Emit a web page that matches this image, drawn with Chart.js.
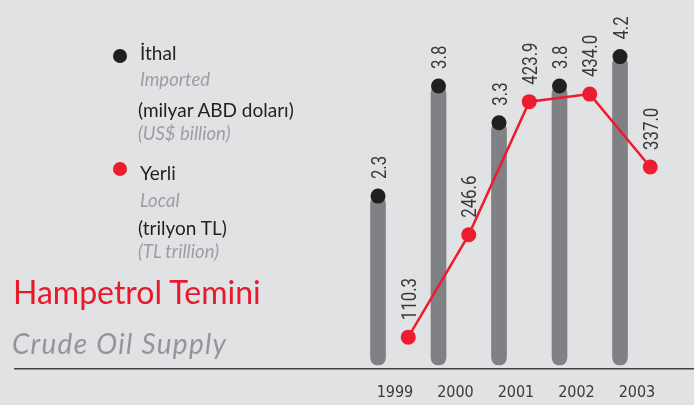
<!DOCTYPE html>
<html>
<head>
<meta charset="utf-8">
<script src="https://cdn.jsdelivr.net/npm/chart.js@4"></script>
<style>
html,body{margin:0;padding:0;background:#e1e2e4;}
#wrap{position:relative;width:694px;height:405px;overflow:hidden;background:#e1e2e4;}
#c{position:absolute;left:0;top:0;}
.t{position:absolute;white-space:nowrap;font-family:Lato,"Open Sans",sans-serif;line-height:1.2;z-index:2;}
.blk{font-size:19px;color:#231f20;}
.gry{font-size:18.5px;color:#9c9ea1;font-style:italic;}
.dot{position:absolute;width:14px;height:14px;border-radius:50%;z-index:2;}
</style>
</head>
<body>
<div id="wrap">
<canvas id="c" width="694" height="405"></canvas>
<div class="dot" style="left:113px;top:49px;background:#231f20;"></div>
<div class="t blk" style="left:140px;top:42.2px;">İthal</div>
<div class="t gry" style="left:140px;top:67.8px;">Imported</div>
<div class="t blk" style="left:138px;top:99.2px;">(milyar ABD doları)</div>
<div class="t gry" style="left:138px;top:121.8px;">(US$ billion)</div>
<div class="dot" style="left:113px;top:162px;background:#ed1c2e;"></div>
<div class="t blk" style="left:140px;top:162.2px;">Yerli</div>
<div class="t gry" style="left:140px;top:188.8px;">Local</div>
<div class="t blk" style="left:138px;top:217.2px;">(trilyon TL)</div>
<div class="t gry" style="left:138px;top:239.8px;">(TL trillion)</div>
<div class="t" style="left:13px;top:273.4px;font-size:32px;color:#e8192c;">Hampetrol Temini</div>
<div class="t" style="left:12px;top:327.4px;font-size:28px;color:#939598;font-style:italic;letter-spacing:1.3px;">Crude Oil Supply</div>
</div>
<script>
const years = ['1999', '2000', '2001', '2002', '2003'];
const imported = [2.3, 3.8, 3.3, 3.8, 4.2];
const local = [110.3, 246.6, 423.9, 434.0, 337.0];

const barPts = imported.map((v, i) => ({ x: i, y: v }));
const localPts = local.map((v, i) => ({ x: i + 0.5, y: v }));

const valueLabels = {
  id: 'valueLabels',
  afterDatasetsDraw(chart) {
    const ctx = chart.ctx;
    [0, 1].forEach(di => {
      const meta = chart.getDatasetMeta(di);
      const vals = chart.data.datasets[di].data;
      meta.data.forEach((pt, i) => {
        ctx.save();
        ctx.translate(pt.x, pt.y - 17);
        ctx.rotate(-Math.PI / 2);
        ctx.scale(0.8, 1);
        ctx.font = '400 21px Roboto, "Open Sans", sans-serif';
        ctx.fillStyle = '#38383a';
        ctx.textAlign = 'left';
        ctx.textBaseline = 'alphabetic';
        ctx.fillText(vals[i].y.toFixed(1), 0, 7.5);
        ctx.restore();
      });
    });
  }
};

new Chart(document.getElementById('c'), {
  type: 'bar',
  data: {
    datasets: [
      {
        type: 'line',
        data: localPts,
        yAxisID: 'y2',
        borderColor: '#ed1c2e',
        borderWidth: 2.5,
        backgroundColor: '#ed1c2e',
        pointBackgroundColor: '#ed1c2e',
        pointBorderWidth: 0,
        pointRadius: 7.5,
        tension: 0,
        fill: false,
        order: 0
      },
      {
        type: 'line',
        data: barPts,
        yAxisID: 'y',
        showLine: false,
        pointBackgroundColor: '#231f20',
        pointBorderWidth: 0,
        pointRadius: 7.5,
        order: 1
      },
      {
        type: 'bar',
        data: barPts,
        yAxisID: 'y',
        backgroundColor: '#808184',
        barThickness: 15,
        borderRadius: 7.5,
        borderSkipped: false,
        order: 2
      }
    ]
  },
  options: {
    responsive: false,
    animation: false,
    devicePixelRatio: 1,
    layout: { autoPadding: false, padding: { left: 15, right: 0, top: 0, bottom: 0 } },
    plugins: { legend: { display: false }, tooltip: { enabled: false } },
    scales: {
      x: {
        type: 'linear',
        min: -6.0,
        max: 5.223,
        offset: false,
        grid: { display: false, drawTicks: false, offset: false },
        border: { display: true, color: '#414042', width: 1.5 },
        afterBuildTicks: (scale) => {
          scale.ticks = years.map((_, i) => ({ value: i + 0.28 }));
        },
        afterFit: (scale) => { scale.height = 36; },
        ticks: {
          autoSkip: false,
          maxRotation: 0,
          padding: 14,
          color: '#3a3a3c',
          font: { family: '"Liberation Sans Narrow", "DejaVu Sans Condensed", sans-serif', size: 16 },
          callback: (value, index) => years[index]
        }
      },
      y: {
        display: false,
        min: -0.0545,
        max: 4.971
      },
      y2: {
        display: false,
        min: 67.9,
        max: 559.3
      }
    }
  },
  plugins: [valueLabels]
});
</script>
</body>
</html>
